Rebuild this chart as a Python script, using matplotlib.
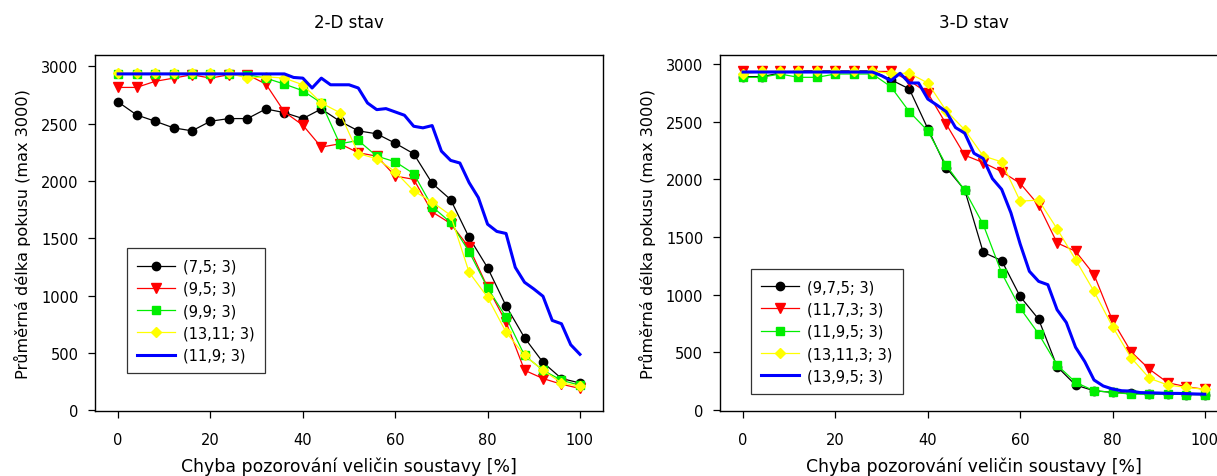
import matplotlib
matplotlib.use("Agg")
import matplotlib.pyplot as plt

plt.rcParams['font.family'] = ['DejaVu Sans']

# ---------------- data ----------------
x_pts = list(range(0, 101, 4))
x_fine = list(range(0, 101, 2))

# 2-D
d2_75 = [2690, 2577, 2522, 2464, 2438, 2522, 2545, 2545, 2629, 2597, 2545, 2629, 2522,
         2438, 2412, 2330, 2238, 1980, 1838, 1507, 1243, 910, 632, 417, 276, 237]
d2_95 = [2817, 2817, 2870, 2898, 2928, 2898, 2928, 2928, 2846, 2603, 2487, 2296, 2325,
         2247, 2217, 2043, 2015, 1730, 1629, 1420, 1072, 768, 348, 276, 226, 189]
d2_99 = [2935, 2935, 2935, 2935, 2935, 2935, 2935, 2928, 2898, 2846, 2788, 2681, 2325,
         2354, 2217, 2168, 2064, 1777, 1638, 1383, 1067, 812, 478, 348, 261, 217]
d2_1311 = [2940, 2940, 2940, 2940, 2940, 2940, 2940, 2898, 2910, 2898, 2840, 2681, 2597,
           2240, 2194, 2081, 1913, 1817, 1701, 1203, 985, 681, 478, 348, 237, 209]
d2_119 = [2935, 2935, 2935, 2935, 2935, 2935, 2935, 2935, 2935, 2935, 2935, 2935, 2935,
          2935, 2935, 2935, 2935, 2935, 2935, 2904, 2898, 2812, 2898, 2840, 2840, 2840,
          2812, 2681, 2623, 2632, 2603, 2574, 2478, 2464, 2484, 2261, 2180, 2157, 1986,
          1855, 1623, 1560, 1542, 1246, 1116, 1058, 994, 783, 754, 571, 487]

# 3-D
d3_975 = [2890, 2890, 2920, 2940, 2940, 2940, 2940, 2940, 2864, 2783, 2440, 2101, 1907,
          1368, 1296, 985, 788, 377, 217, 168, 154, 145, 140, 140, 135, 135]
d3_1173 = [2935, 2935, 2935, 2935, 2935, 2935, 2935, 2935, 2935, 2855, 2748, 2478, 2209,
           2145, 2067, 1965, 1777, 1449, 1377, 1174, 777, 507, 354, 237, 203, 180]
d3_1195 = [2884, 2884, 2913, 2884, 2884, 2913, 2913, 2913, 2803, 2586, 2420, 2122, 1904,
           1609, 1188, 884, 661, 391, 241, 168, 154, 139, 139, 139, 135, 135]
d3_13113 = [2913, 2935, 2935, 2935, 2935, 2935, 2935, 2935, 2919, 2919, 2835, 2594, 2429,
            2203, 2151, 1811, 1820, 1571, 1304, 1029, 724, 455, 276, 217, 197, 180]
d3_1395 = [2930, 2930, 2930, 2930, 2930, 2930, 2930, 2930, 2930, 2930, 2930, 2930, 2930,
           2930, 2930, 2898, 2855, 2919, 2835, 2835, 2696, 2643, 2586, 2449, 2400, 2226,
           2180, 2006, 1913, 1710, 1440, 1203, 1116, 1087, 870, 759, 545, 420, 261, 209,
           183, 168, 165, 152, 150, 148, 145, 145, 143, 140, 138]

labels2 = ["(7,5; 3)", "(9,5; 3)", "(9,9; 3)", "(13,11; 3)", "(11,9; 3)"]
labels3 = ["(9,7,5; 3)", "(11,7,3; 3)", "(11,9,5; 3)", "(13,11,3; 3)", "(13,9,5; 3)"]
titles = ["2-D stav", "3-D stav"]
xlabel = "Chyba pozorování veličin soustavy [%]"
ylabel = "Průměrná délka pokusu (max 3000)"
xticks = [0, 20, 40, 60, 80, 100]
yticks = [0, 500, 1000, 1500, 2000, 2500, 3000]

# ---------------- figure ----------------
fig = plt.figure(figsize=(12.17, 4.77), dpi=100)
ax1 = fig.add_axes([0.0781, 0.1369, 0.4174, 0.7457])
ax2 = fig.add_axes([0.5916, 0.1369, 0.4174, 0.7463])

styles = [
    dict(color='black', marker='o', mfc='black', mec='black'),
    dict(color='#FF0000', marker='v', mfc='#FF0000', mec='#FF0000'),
    dict(color='#00EE00', marker='s', mfc='#00EE00', mec='#00EE00'),
    dict(color='#FFFF00', marker='D', mfc='#FFFF00', mec='#FFFF00'),
]
msizes = [6, 6.5, 5.5, 5.5]


def draw(ax, series, blue, labels, title, legpos, ylim):
    for s, st, ms, lab in zip(series, styles, msizes, labels):
        ax.plot(x_pts, s, lw=0.9, ms=ms, label=lab, **st)
    ax.plot(x_fine, blue, color='#0000FF', lw=2.2, label=labels[4])
    ax.set_xlim(-5, 105)
    ax.set_ylim(*ylim)
    ax.set_xticks(xticks)
    ax.set_yticks(yticks)
    ax.tick_params(axis='x', direction='out', length=5, width=0.9, labelsize=10.5,
                   pad=10)
    ax.tick_params(axis='y', direction='out', length=5, width=0.9, labelsize=10.5,
                   pad=7)
    for sp in ax.spines.values():
        sp.set_linewidth(1.0)
    ax.set_title(title, fontsize=12, pad=20)
    ax.set_xlabel(xlabel, fontsize=12.4, labelpad=7.5)
    ax.set_ylabel(ylabel, fontsize=11.6, labelpad=7)
    leg = ax.legend(loc='lower left', bbox_to_anchor=legpos, fontsize=10.5,
                    frameon=True, fancybox=False, edgecolor='black',
                    handlelength=2.6, borderpad=0.7, labelspacing=0.5,
                    handletextpad=0.55, borderaxespad=0)
    leg.get_frame().set_linewidth(0.9)


draw(ax1, [d2_75, d2_95, d2_99, d2_1311], d2_119, labels2, titles[0],
     (0.063, 0.106), (-5, 3100))
draw(ax2, [d3_975, d3_1173, d3_1195, d3_13113], d3_1395, labels3, titles[1],
     (0.061, 0.048), (-5, 3080))

fig.savefig("out.png", dpi=100)
